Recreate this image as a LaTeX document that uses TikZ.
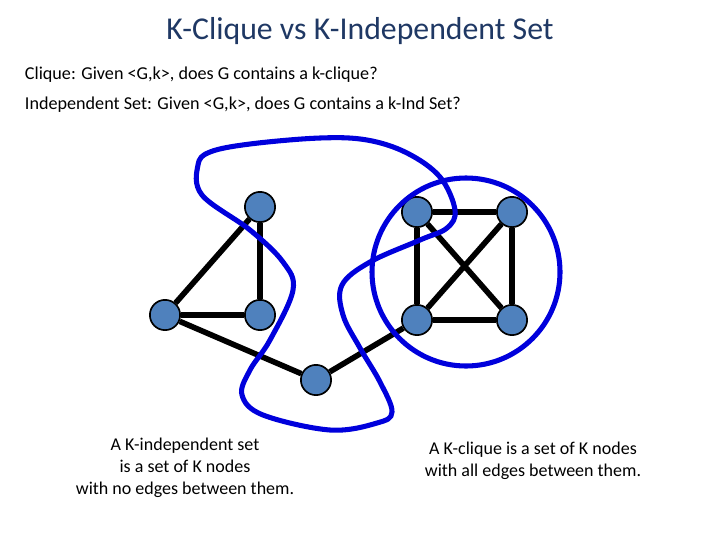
\documentclass[tikz,border=0pt]{standalone}
\usepackage{fontspec}
\setmainfont{Carlito}
\definecolor{titleblue}{RGB}{31,56,100}
\definecolor{vertexblue}{RGB}{79,129,189}
\definecolor{setblue}{RGB}{0,0,220}
\tikzset{
  vertex/.style={circle, fill=vertexblue, draw=black, line width=1.2pt, minimum size=21.5pt, inner sep=0pt},
  edge/.style={line width=4pt},
  region/.style={draw=setblue, line width=3.6pt},
  caption/.style={align=center, font=\fontsize{12.8}{15.5}\selectfont},
  question/.style={anchor=west, font=\fontsize{12.9}{14}\selectfont}
}
\begin{document}
\begin{tikzpicture}[x=0.025cm,y=-0.025cm]
\useasboundingbox (0,0) rectangle (720,540);

\node[font=\fontsize{22.6}{25}\selectfont, text=titleblue] (title) at (360,31) {K-Clique vs K-Independent Set};
\node[question] (q1) at (20,75) {Clique: Given <G,k>, does G contains a k-clique?};
\node[question] (q2) at (20,105) {Independent Set: Given <G,k>, does G contains a k-Ind Set?};

% the graph
\node[vertex] (a1) at (260,207) {};
\node[vertex] (a2) at (165,315) {};
\node[vertex] (a3) at (260,315) {};
\node[vertex] (a4) at (316,380) {};
\node[vertex] (b1) at (417,212) {};
\node[vertex] (b2) at (512,212) {};
\node[vertex] (b3) at (417,320) {};
\node[vertex] (b4) at (512,320) {};

\draw[edge] (a1) -- (a2) (a2) -- (a3) (a3) -- (a1);
\draw[edge] (a2) -- (a4) (a4) -- (b3);
\draw[edge] (b1) -- (b2) (b2) -- (b4) (b4) -- (b3) (b3) -- (b1) (b1) -- (b4) (b2) -- (b3);

% clique and independent set
\draw[region] (466,272) circle [x radius=94, y radius=94];
\draw[region] plot[smooth cycle, tension=0.6] coordinates {(202,195) (198,165) (210,152) (250,144) (320,138) (367,140) (407,153) (440,177) (455,210) (447,228) (420,240) (370,262) (342,285) (343,315) (360,348) (380,382) (392,412) (377,423) (330,430) (263,415) (242,395) (250,370) (270,340) (293,290) (283,262) (250,230)};

\node[caption] (indtxt) at (185,468) {A K-independent set\\is a set of K nodes\\with no edges between them.};
\node[caption] (clqtxt) at (533,461) {A K-clique is a set of K nodes\\with all edges between them.};
\end{tikzpicture}
\end{document}
